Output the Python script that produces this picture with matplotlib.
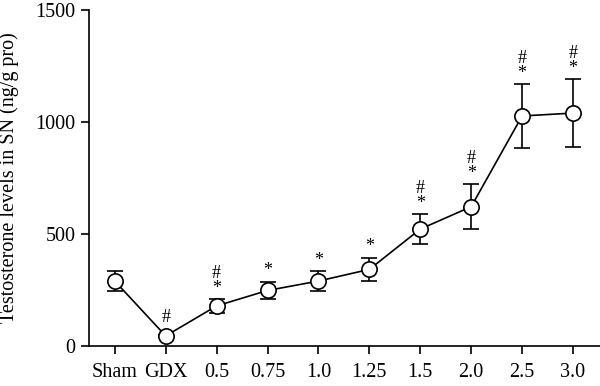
import matplotlib
matplotlib.use("Agg")
import matplotlib.pyplot as plt
import numpy as np

plt.rcParams['font.family'] = ['Liberation Serif', 'DejaVu Serif']

categories = ["Sham", "GDX", "0.5", "0.75", "1.0", "1.25", "1.5", "2.0", "2.5", "3.0"]
means = [290, 45, 179, 248, 290, 342, 522, 622, 1027, 1040]
errors = [45, 6, 31, 38, 44, 53, 67, 100, 143, 152]
marks = ["", "#", "#\n*", "*", "*", "*", "#\n*", "#\n*", "#\n*", "#\n*"]

fig = plt.figure(figsize=(6, 3.86), dpi=100)
ax = fig.add_axes([0.148, 0.1036, 0.852, 0.8704])
x = np.arange(len(categories))
ax.errorbar(x, means, yerr=errors, fmt='-', color='black', lw=1.2,
            elinewidth=1.2, capsize=5.8, capthick=1.2, zorder=2)
ax.plot(x, means, 'o', ms=11, mfc='white', mec='black', mew=1.2, zorder=3)

for xi, m, e, t in zip(x, means, errors, marks):
    if not t:
        continue
    if t == '#':
        off = 12
    elif t == '*':
        off = 8.0
    else:
        off = 13.0
    ax.annotate(t, (xi, m + e), xytext=(0, off), textcoords='offset points',
                ha='center', va='center', fontsize=13, linespacing=0.85,
                multialignment='center')

ax.set_xlim(-0.51, 9.53)
ax.set_ylim(0, 1500)
ax.set_yticks([0, 500, 1000, 1500])
ax.set_xticks(x)
ax.set_xticklabels(categories)
ax.set_ylabel("Testosterone levels in SN (ng/g pro)", fontsize=14.5)
ax.yaxis.set_label_coords(-0.137, 0.5)
ax.spines['top'].set_visible(False)
ax.spines['right'].set_visible(False)
for sp in ('left', 'bottom'):
    ax.spines[sp].set_linewidth(1.2)
ax.tick_params(axis='both', direction='out', length=6, width=1.2, labelsize=14.5)
ax.tick_params(axis='x', pad=6)
fig.savefig("out.png", dpi=100)
